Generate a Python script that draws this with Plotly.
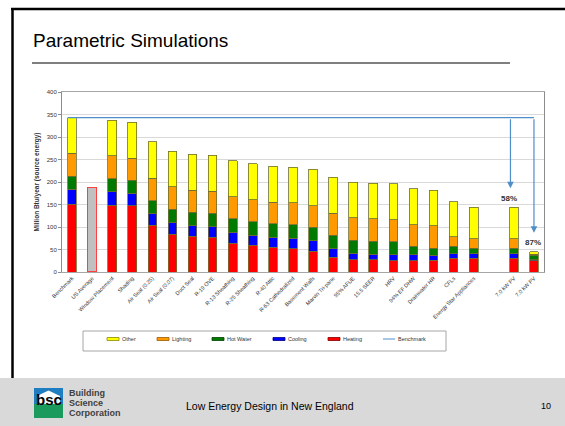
import plotly.graph_objects as go

# Scenario labels (blank slot separates the PV cases)
categories = ["Benchmark", "US Average", "Window Placement", "Shading",
              "Air Seal (0.25)", "Air Seal (0.07)", "Duct Seal", "R-19 OVE",
              "R-13 Sheathing", "R-25 Sheathing", "R-40 Attic", "R-63 Cathedralized",
              "Basement Walls", "Marvin Tri-pane", "95% AFUE", "15.5 SEER", "HRV",
              "94% EF DHW", "Drainwater HR", "CFLs", "Energy Star Appliances", "",
              "7.0 kW PV", "7.0 kW PV"]

# End-use source energy, Million Btu/year
heating   = [151, None, 148, 147, 104, 84, 79, 77, 64, 59, 55, 52, 46, 33, 27, 27, 25, 25, 26, 31, 31, None, 31, 25]
cooling   = [33, None, 30, 28, 25, 26, 24, 24, 24, 23, 22, 23, 23, 19, 15, 12, 13, 13, 11, 10, 10, None, 10, 2]
hot_water = [29, None, 29, 29, 29, 29, 30, 30, 30, 30, 30, 30, 30, 30, 29, 29, 29, 19, 16, 16, 12, None, 12, 10]
lighting  = [51, None, 51, 49, 50, 50, 49, 49, 49, 49, 48, 49, 48, 49, 50, 50, 49, 48, 50, 21, 21, None, 21, 2]
other     = [79, None, 79, 80, 81, 79, 80, 80, 80, 80, 80, 79, 81, 80, 78, 79, 80, 80, 79, 78, 70, None, 70, 6]
us_average = 187

series = [("Heating", heating, "#FF0000"),
          ("Cooling", cooling, "#0000FF"),
          ("Hot Water", hot_water, "#007A00"),
          ("Lighting", lighting, "#FF9900"),
          ("Other", other, "#FFFF00")]

FONT = "Liberation Sans, Arial, sans-serif"
W, H = 565, 426
L, R, T, B = 62, 21, 92, 154
PW, PH = W - L - R, H - T - B


def px(x):
    return (x - L) / PW


def py(y):
    return (H - B - y) / PH


xs = list(range(len(categories)))
totals = [sum(s[1][i] for s in series) if heating[i] is not None else None for i in xs]
bench_total = totals[0]
blue_line = "#4F8EC9"

fig = go.Figure()
for name, vals, color in series:
    fig.add_trace(go.Bar(x=xs, y=vals, name=name, width=0.43,
                         marker=dict(color=color, line=dict(color="#6e6e32", width=0.8)),
                         showlegend=False))
fig.add_trace(go.Bar(x=[categories.index("US Average")], y=[us_average], width=0.43,
                     name="US Average", showlegend=False,
                     marker=dict(color="#C0C0C0", line=dict(color="#FF4040", width=1.2))))

# Benchmark reference line with drop arrows to the PV cases
pv_idx = [i for i, c in enumerate(categories) if c == "7.0 kW PV"]
arrow_x = [pv_idx[0] - 0.17, pv_idx[1]]
fig.add_trace(go.Scatter(x=[-0.22, arrow_x[-1]], y=[bench_total, bench_total], mode="lines",
                         line=dict(color=blue_line, width=1.3), name="Benchmark",
                         showlegend=False, hoverinfo="skip"))
for i, ax_ in zip(pv_idx, arrow_x):
    fig.add_annotation(x=ax_, y=totals[i] + 42, ax=ax_, ay=bench_total,
                       xref="x", yref="y", axref="x", ayref="y", text="",
                       showarrow=True, arrowhead=2, arrowsize=1.1, arrowwidth=1.2,
                       arrowcolor=blue_line)
    pct = round((1 - totals[i] / bench_total) * 100)
    fig.add_annotation(x=ax_ - 0.05, y=totals[i] + 20, xref="x", yref="y",
                       text=f"<b>{pct}%</b>", showarrow=False,
                       font=dict(family=FONT, size=8, color="#333333"))

shapes = []
# footer band
shapes.append(dict(type="rect", xref="paper", yref="paper", x0=px(0), x1=px(W),
                   y0=py(378), y1=py(H), fillcolor="#D9D9D9", line=dict(width=0), layer="below"))
# slide frame
shapes.append(dict(type="line", xref="paper", yref="paper", x0=px(12.5), x1=px(12.5),
                   y0=py(8), y1=py(378), line=dict(color="black", width=2.5)))
shapes.append(dict(type="line", xref="paper", yref="paper", x0=px(11), x1=px(W),
                   y0=py(9), y1=py(9), line=dict(color="black", width=2.5)))
# title rule
shapes.append(dict(type="line", xref="paper", yref="paper", x0=px(32), x1=px(510),
                   y0=py(63), y1=py(63), line=dict(color="black", width=1)))

# legend box
shapes.append(dict(type="rect", xref="paper", yref="paper", x0=px(83), x1=px(446),
                   y0=py(331), y1=py(351), line=dict(color="#A6A6A6", width=1),
                   fillcolor="white"))
legend_items = [("Other", "#FFFF00", "#8C8C00"), ("Lighting", "#FF9900", "#9C5A00"),
                ("Hot Water", "#007A00", "#004000"), ("Cooling", "#0000FF", "#000080"),
                ("Heating", "#FF0000", "#800000")]
legend_x = [107, 157, 212, 273, 328, 383]
annotations = []
for (name, fill, edge), lx in zip(legend_items, legend_x):
    shapes.append(dict(type="rect", xref="paper", yref="paper", x0=px(lx), x1=px(lx + 12),
                       y0=py(337.5), y1=py(340.5), fillcolor=fill, line=dict(color=edge, width=0.8)))
    annotations.append(dict(x=px(lx + 13), y=py(339), xref="paper", yref="paper", text=name,
                            showarrow=False, xanchor="left", yanchor="middle",
                            font=dict(family=FONT, size=5.5, color="#333333")))
shapes.append(dict(type="line", xref="paper", yref="paper", x0=px(legend_x[-1]),
                   x1=px(legend_x[-1] + 12), y0=py(339), y1=py(339),
                   line=dict(color=blue_line, width=1)))
annotations.append(dict(x=px(legend_x[-1] + 13), y=py(339), xref="paper", yref="paper",
                        text="Benchmark", showarrow=False, xanchor="left", yanchor="middle",
                        font=dict(family=FONT, size=5.5, color="#333333")))

# logo
shapes.append(dict(type="rect", xref="paper", yref="paper", x0=px(34), x1=px(63),
                   y0=py(388), y1=py(404), fillcolor="#1F7EC1", line=dict(width=0)))
shapes.append(dict(type="path", xref="paper", yref="paper",
                   path=f"M{px(37)},{py(404)} L{px(37)},{py(396)} L{px(48.5)},{py(390.5)} "
                        f"L{px(60)},{py(396)} L{px(60)},{py(404)} Z",
                   fillcolor="white", line=dict(width=0)))
shapes.append(dict(type="rect", xref="paper", yref="paper", x0=px(34), x1=px(63),
                   y0=py(404), y1=py(418), fillcolor="#1A9A5C", line=dict(width=0)))
annotations.append(dict(x=px(48.5), y=py(399.5), xref="paper", yref="paper", text="<b>bsc</b>",
                        showarrow=False, xanchor="center", yanchor="middle",
                        font=dict(family=FONT, size=15, color="black")))
for txt, yy in [("Building", 392.5), ("Science", 402.5), ("Corporation", 413)]:
    annotations.append(dict(x=px(67), y=py(yy), xref="paper", yref="paper", text=f"<b>{txt}</b>",
                            showarrow=False, xanchor="left", yanchor="middle",
                            font=dict(family=FONT, size=9, color="#404040")))

# title and footer text
annotations.append(dict(x=px(31), y=py(41), xref="paper", yref="paper",
                        text="Parametric Simulations", showarrow=False,
                        xanchor="left", yanchor="middle",
                        font=dict(family=FONT, size=19, color="black")))
annotations.append(dict(x=px(270), y=py(405.5), xref="paper", yref="paper",
                        text="Low Energy Design in New England", showarrow=False,
                        xanchor="center", yanchor="middle",
                        font=dict(family=FONT, size=10.5, color="black")))
annotations.append(dict(x=px(546), y=py(405.5), xref="paper", yref="paper", text="10",
                        showarrow=False, xanchor="center", yanchor="middle",
                        font=dict(family=FONT, size=9, color="black")))

fig.update_layout(
    width=W, height=H, margin=dict(l=L, r=R, t=T, b=B, autoexpand=False),
    barmode="stack", paper_bgcolor="white", plot_bgcolor="white",
    font=dict(family=FONT, color="#333333"),
    shapes=shapes,
    xaxis=dict(range=[-0.5, len(categories) - 0.5], tickvals=xs, ticktext=categories,
               tickangle=-45, tickfont=dict(size=5.5, color="#333333"), showgrid=False,
               showline=True, linecolor="#A6A6A6", mirror=True, ticks="", zeroline=False),
    yaxis=dict(range=[0, 400], dtick=50, gridcolor="#D9D9D9", gridwidth=1,
               showline=True, linecolor="#8C8C8C", mirror=True, ticks="outside",
               ticklen=3, tickcolor="#8C8C8C", tickfont=dict(size=6, color="#333333"),
               zeroline=False,
               title=dict(text="<b>Million Btu/year (source energy)</b>", standoff=6,
                          font=dict(size=6.5, color="#333333"))),
)
for a in annotations:
    fig.add_annotation(**a)

fig.write_html("out.html")
